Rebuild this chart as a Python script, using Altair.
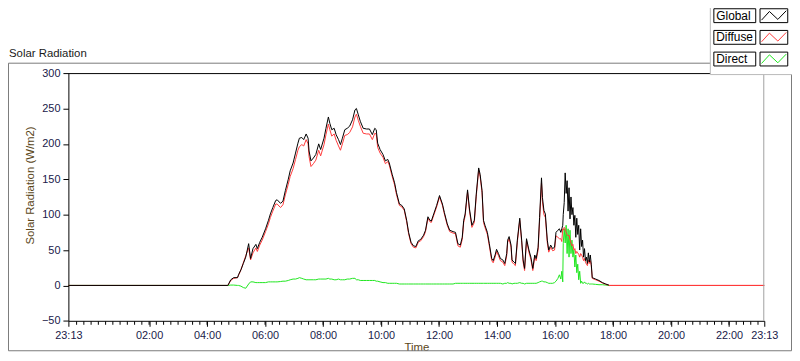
import altair as alt
import pandas as pd

# ---------------- data ----------------
series_names = ["Global", "Diffuse", "Direct"]
series_colors = ["#000000", "#ff3a3a", "#1ee61e"]

times = [
    "23:13", "04:43", "04:49", "04:55", "05:03", "05:05", "05:10", "05:15", "05:20", "05:26", "05:30", "05:35", "05:41", "05:44", "05:49", "05:54",
    "06:01", "06:07", "06:11", "06:16", "06:22", "06:25", "06:32", "06:37", "06:42", "06:48", "06:52", "06:58",
    "07:03", "07:08", "07:11", "07:16", "07:20", "07:25", "07:29", "07:31", "07:35", "07:40", "07:45", "07:51", "07:55",
    "08:02", "08:06", "08:11", "08:14", "08:18", "08:23", "08:27", "08:32", "08:36", "08:40", "08:45", "08:50", "08:55",
    "09:01", "09:06", "09:09", "09:13", "09:17", "09:23", "09:30", "09:36", "09:42", "09:47", "09:50", "09:53", "09:58",
    "10:04", "10:09", "10:14", "10:17", "10:23", "10:28", "10:32", "10:38", "10:43", "10:48", "10:53", "10:57",
    "11:02", "11:07", "11:12", "11:17", "11:22", "11:28", "11:32", "11:37", "11:41", "11:44", "11:49", "11:55",
    "12:01", "12:07", "12:11", "12:17", "12:22", "12:29", "12:34", "12:39", "12:44", "12:48", "12:51", "12:54", "12:59",
    "13:03", "13:08", "13:13", "13:17", "13:22", "13:25", "13:29", "13:32", "13:35", "13:40", "13:44", "13:49", "13:52", "13:56", "13:59",
    "14:03", "14:07", "14:12", "14:16", "14:20", "14:22", "14:25", "14:29", "14:31", "14:35", "14:38", "14:42", "14:47", "14:51", "14:54", "14:57",
    "15:01", "15:06", "15:10", "15:14", "15:18", "15:21", "15:25", "15:28", "15:32", "15:34", "15:37", "15:40", "15:44", "15:47", "15:51", "15:55", "15:59",
    "16:02", "16:06", "16:09", "16:12", "16:14", "16:16", "16:17", "16:19", "16:21", "16:23", "16:25", "16:27", "16:29", "16:31",
    "16:33", "16:35", "16:37", "16:39", "16:41", "16:43", "16:45", "16:47", "16:49", "16:51", "16:53", "16:55", "16:57", "16:59",
    "17:01", "17:03", "17:05", "17:07", "17:09", "17:11", "17:13", "17:15", "17:17", "17:24", "17:31", "17:38", "17:45", "17:51", "17:52",
    "18:00", "23:13",
]

global_rad = [
    0, 0, 8, 11, 11, 15, 22, 31, 40, 59, 38, 52, 58, 52, 61, 68,
    80, 92, 101, 110, 120, 121, 116, 119, 134, 150, 162, 173,
    187, 201, 208, 209, 206, 214, 208, 190, 176, 180, 185, 200, 192,
    208, 222, 238, 229, 220, 222, 213, 206, 199, 208, 220, 222, 225,
    234, 248, 250, 241, 232, 222, 221, 221, 213, 222, 220, 201, 192,
    185, 176, 178, 173, 157, 145, 131, 115, 113, 108, 92, 75,
    61, 56, 55, 63, 65, 71, 78, 97, 92, 91, 101, 113,
    127, 115, 103, 87, 78, 76, 75, 59, 57, 68, 92, 101, 135,
    108, 85, 92, 129, 166, 157, 134, 92, 85, 75, 59, 38, 35, 43, 51,
    45, 38, 36, 31, 45, 64, 69, 57, 36, 33, 31, 64, 95, 64, 36, 24,
    66, 50, 40, 24, 43, 38, 54, 96, 152, 124, 106, 101, 64, 50, 57, 52, 54,
    75, 78, 80, 75, 80, 85, 100, 117, 159, 130, 148, 105, 138, 94,
    125, 100, 110, 85, 99, 68, 95, 72, 85, 50, 80, 55, 64, 40,
    52, 35, 40, 31, 46, 33, 43, 30, 11, 9, 7, 4, 2, 0.5, 0,
    None, None,
]

diffuse_rad = [
    0, 0, 7, 10, 11, 14, 22, 32, 42, 53, 36, 46, 53, 48, 57, 64,
    76, 87, 96, 105, 115, 115, 110, 114, 128, 143, 154, 165,
    178, 191, 196, 199, 197, 206, 200, 182, 168, 172, 177, 191, 183,
    199, 213, 228, 220, 211, 214, 205, 197, 191, 200, 212, 213, 216,
    224, 238, 242, 233, 225, 215, 214, 214, 206, 215, 214, 195, 187,
    181, 172, 175, 170, 154, 142, 128, 113, 111, 106, 90, 73,
    59, 54, 53, 61, 63, 69, 76, 95, 90, 89, 99, 111,
    125, 113, 101, 85, 76, 74, 73, 56, 54, 65, 89, 98, 132,
    105, 82, 89, 126, 163, 154, 131, 89, 82, 72, 56, 35, 32, 40, 48,
    42, 35, 33, 28, 42, 61, 66, 54, 33, 30, 28, 61, 92, 61, 33, 21,
    63, 47, 37, 21, 40, 35, 50, 91, 145, 118, 100, 96, 60, 47, 54, 49, 50,
    70, 68, 66, 66, 62, 80, 78, 82, 80, 75, 72, 70, 71, 65,
    60, 56, 58, 50, 52, 45, 48, 46, 44, 40, 45, 43, 40, 35,
    38, 33, 30, 28, 36, 31, 35, 28, 10, 8, 6, 3.5, 1.5, 0.5, 0,
    0, 0,
]

# the green trace lies hidden under the red one after 17:52, so it is left out there
direct_rad = [
    0, 0, 0.5, 0.5, 0, 0, -1, -3, -4, 2, 5, 5, 4, 4, 4, 4,
    4, 5, 5, 5, 5, 5, 5.5, 6, 6, 7, 8, 9,
    9, 10, 11, 10, 9, 8, 8, 8, 8, 8, 8, 9, 9,
    9, 9, 10, 9, 9, 8, 8, 9, 8, 8, 8, 9, 9,
    10, 10, 8, 8, 7, 7, 7, 7, 7, 7, 6, 6, 5,
    4, 4, 3, 3, 3, 3, 3, 2, 2, 2, 2, 2,
    2, 2, 2, 2, 2, 2, 2, 2, 2, 2, 2, 2,
    2, 2, 2, 2, 2, 2, 3, 3, 3, 3, 3, 3, 3,
    3, 3, 3, 3, 3, 3, 3, 3, 3, 3, 3, 3, 3, 3, 3,
    3, 3, 2, 3, 3, 4, 3, 3, 2, 3, 3, 3, 4, 3, 3, 2,
    3, 3, 3, 3, 3, 3, 4, 5, 6, 6, 5, 5, 4, 3, 3, 3, 4,
    6, 10, 15, 9, 20, 5, 59, 80, 60, 85, 45, 80, 40, 78,
    45, 64, 40, 50, 26, 43, 18, 30, 8, 20, 3, 6, 3, 3,
    5, 3, 3, 2, 3, 2, 2, 2, 2, 1.5, 1, 1, 0.5, 0, 0,
    None, None,
]

y_ticks = [-50, 0, 50, 100, 150, 200, 250, 300]
# minutes after midnight; the record starts at 23:13 the evening before
x_major = [-47, 120, 240, 360, 480, 600, 720, 840, 960, 1080, 1200, 1320, 1393]
x_minor = list(range(-30, 1393, 15))
global_end = 1072  # 17:52, where the Global trace stops

mins = [int(t[:2]) * 60 + int(t[3:]) for t in times]
mins[0] -= 1440

df = pd.DataFrame({
    "minutes": mins,
    "Global": global_rad,
    "Diffuse": diffuse_rad,
    "Direct": direct_rad,
})
minor_df = pd.DataFrame({"minutes": x_minor})
leg_df = pd.DataFrame({"series": series_names})

# ---------------- styling ----------------
FONT = "Liberation Sans"
LABEL_COLOR = "#20204a"
TITLE_COLOR = "#5a4619"
W, H = 703, 250.25

xscale = alt.Scale(domain=[-47, 1393], nice=False, zero=False)
yscale = alt.Scale(domain=[-50, 300], nice=False, zero=False)

major_axis = alt.Axis(
    orient="bottom",
    values=x_major,
    labelExpr="timeFormat(datetime(2000, 0, 1, 0, datum.value), '%H:%M')",
    title="Time", grid=False, domainColor="black", tickColor="black",
    tickSize=5.5, labelPadding=3, labelFont=FONT, labelFontSize=11,
    labelColor=LABEL_COLOR, labelFlush=False, labelOverlap=False,
    titleFont=FONT, titleFontSize=11.5, titleFontWeight="normal",
    titleColor=TITLE_COLOR, titleY=30, titleBaseline="alphabetic",
)
y_axis = alt.Axis(
    orient="left",
    values=y_ticks, grid=False, domainColor="black", tickColor="black",
    tickSize=5.5, labelPadding=3, labelFont=FONT, labelFontSize=11,
    labelColor=LABEL_COLOR, title="Solar Radiation (W/m2)",
    titleFont=FONT, titleFontSize=11.5, titleFontWeight="normal",
    titleColor=TITLE_COLOR, titleAngle=270, titleX=-38, titleY=113,
    titleAlign="center", titleBaseline="middle",
)


def line(field, color, xaxis, yaxis, extra=None):
    cond = f"isValid(datum['{field}']) && isFinite(datum['{field}'])"
    if extra:
        cond = f"{cond} && {extra}"
    return (
        alt.Chart(df)
        .transform_filter(cond)
        .mark_line(color=color, strokeWidth=1)
        .encode(
            x=alt.X("minutes:Q", scale=xscale, axis=xaxis),
            y=alt.Y(f"{field}:Q", scale=yscale, axis=yaxis),
        )
    )


direct = line("Direct", series_colors[2], None, y_axis)
diffuse = line("Diffuse", series_colors[1], None, None)
glob = line("Global", series_colors[0], major_axis, None)
# the red trace is the only one left on top after the Global trace stops
diffuse_tail = line("Diffuse", series_colors[1], None, None, f"datum.minutes >= {global_end}")

minor_ticks = alt.Chart(minor_df).mark_rule(color="black", strokeWidth=1).encode(
    x=alt.X("minutes:Q", scale=xscale, axis=None),
    y=alt.value(H + 0.5),
    y2=alt.value(H + 4),
)

one = alt.Data(values=[{"k": 0}])

frame = alt.Chart(one).mark_rect(filled=False, color="#7a7a7a", strokeWidth=1).encode(
    x=alt.value(-60.5), x2=alt.value(730.5), y=alt.value(-10), y2=alt.value(280.5)
)
label = alt.Chart(one).mark_text(
    align="left", baseline="alphabetic", font=FONT, fontSize=11.5, color="#1a1a1a"
).encode(x=alt.value(-60), y=alt.value(-16.5), text=alt.value("Solar Radiation"))

top_border = alt.Chart(one).mark_rule(color="black", strokeWidth=1).encode(
    x=alt.value(0), x2=alt.value(W), y=alt.value(0.5)
)
right_border = alt.Chart(one).mark_rule(color="#a0a0a0", strokeWidth=1).encode(
    x=alt.value(W - 0.5), y=alt.value(0), y2=alt.value(H)
)

panel = alt.Chart(one).mark_rect(fill="white", stroke="#b9b9b9", strokeWidth=1).encode(
    x=alt.value(648.5), x2=alt.value(735), y=alt.value(-80), y2=alt.value(1.5)
)

leg_y = alt.Y(
    "series:N",
    scale=alt.Scale(type="point", domain=series_names, range=[-58, -14.2], padding=0),
    axis=None,
)
box_path = "M-1,-0.331L1,-0.331L1,0.331L-1,0.331Z"
label_boxes = alt.Chart(leg_df).mark_point(
    shape=box_path, size=42.3 ** 2, filled=True, fill="white", stroke="black",
    strokeWidth=1, opacity=1,
).encode(x=alt.value(673.2), y=leg_y)
label_texts = alt.Chart(leg_df).mark_text(
    align="left", baseline="middle", font=FONT, fontSize=12, color="black"
).encode(x=alt.value(654.5), y=leg_y, text="series:N")
icon_path = "M-1,-0.5L1,-0.5L1,0.5L-1,0.5Z"
icon_boxes = alt.Chart(leg_df).mark_point(
    shape=icon_path, size=28 ** 2, filled=True, fill="white", stroke="black",
    strokeWidth=1, opacity=1,
).encode(x=alt.value(712.7), y=leg_y)
zig_path = "M-1,0.36L-0.36,-0.34L0.32,0.3L1,-0.4"
icons = alt.Chart(leg_df).mark_point(
    shape=zig_path, size=625, filled=False, strokeWidth=1, opacity=1
).encode(
    x=alt.value(712.7), y=leg_y,
    color=alt.Color("series:N", scale=alt.Scale(domain=series_names, range=series_colors), legend=None),
)

chart = (
    alt.layer(
        frame, label, direct, diffuse, glob, diffuse_tail, top_border, right_border,
        panel, label_boxes, label_texts, icon_boxes, icons, minor_ticks,
    )
    .properties(
        width=W, height=H,
        autosize=alt.AutoSizeParams(type="none"),
        padding={"left": 61, "top": 64, "right": 28, "bottom": 30.5},
    )
    .resolve_scale(y="independent")
    .resolve_axis(x="independent", y="independent")
    .configure(font=FONT)
    .configure_view(strokeWidth=0)
)

chart.save("out.html", embed_options={"renderer": "svg", "actions": False})
